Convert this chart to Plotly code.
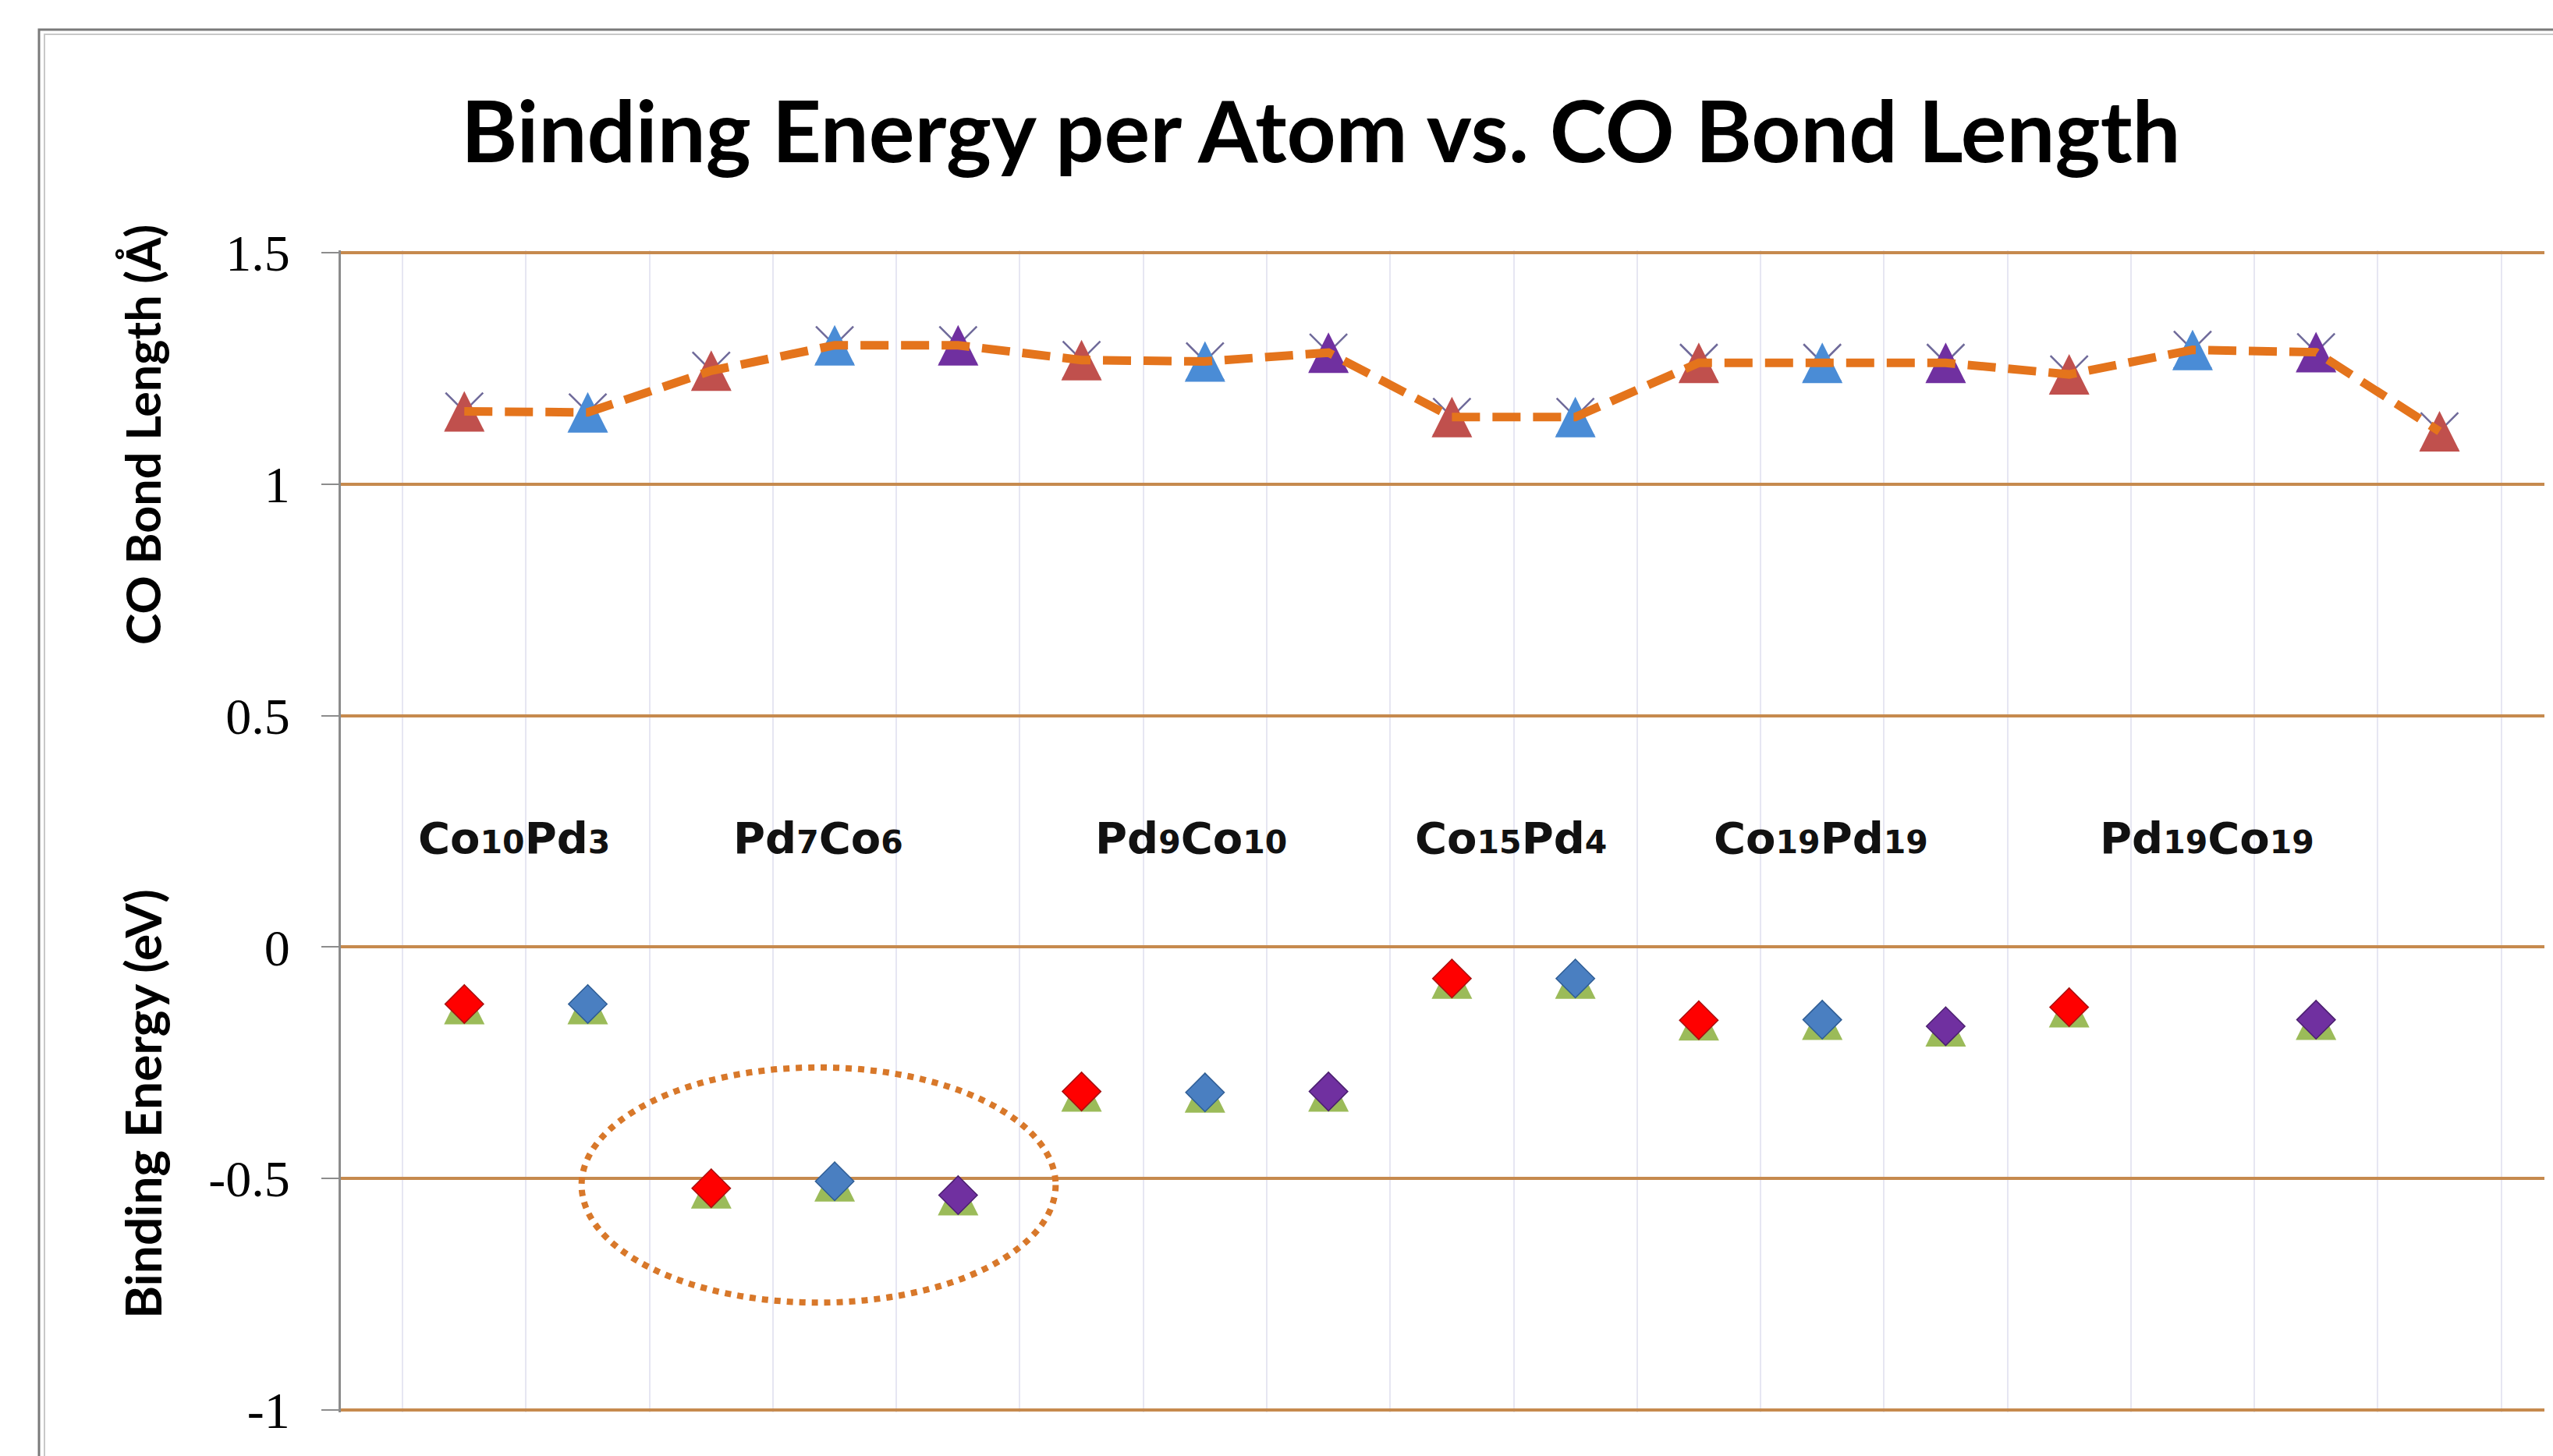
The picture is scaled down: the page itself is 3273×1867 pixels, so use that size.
import re
import plotly.graph_objects as go

# ---------------- data ----------------
points = list(range(1, 18))
site = ["r", "b", "r", "b", "p", "r", "b", "p", "r", "b", "r", "b", "p", "r", "b", "p", "r"]
co_len = [1.157, 1.155, 1.245, 1.300, 1.300, 1.268, 1.265, 1.284, 1.145, 1.145,
          1.262, 1.262, 1.262, 1.237, 1.290, 1.285, 1.114]
bind_e = [-0.123, -0.123, -0.521, -0.506, -0.536, -0.312, -0.314, -0.312, -0.068, -0.068,
          -0.158, -0.157, -0.171, -0.130, None, -0.157, None]
groups = ["Co10Pd3", "Pd7Co6", "Pd9Co10", "Co15Pd4", "Co19Pd19", "Pd19Co19"]
ytick_vals = [-1, -0.5, 0, 0.5, 1, 1.5]
ytick_text = ["-1", "-0.5", "0", "0.5", "1", "1.5"]

# ---------------- styles ----------------
W, H = 3273, 1867
L, R, T, B = 437, 11, 321, 56
plot_w, plot_h = W - L - R, H - T - B
yr = [-1.005, 1.505]
px_per_unit = plot_h / (yr[1] - yr[0])
tri_size = 52
d = (tri_size / 2) / px_per_unit  # shift so arrow-shaped triangles are centred

tri_col = {"r": "#C0504D", "b": "#4A8CD6", "p": "#7030A0"}
dia_col = {"r": "#FF0000", "b": "#4A7FC1", "p": "#7030A0"}
dia_edge = {"r": "#A81010", "b": "#2F5D95", "p": "#4B1F70"}
grid_col = "#C68A4E"
orange = "#E4741C"

group_x = [1.40, 3.87, 6.89, 9.48, 11.99, 15.12]
group_y = 0.236


def fmt(name):
    return re.sub(r"(\d+)", r"<span style='font-size:41px'>\1</span>", name)


def px2paper_x(px):
    return (px - L) / plot_w


def px2paper_y(py):
    return (H - B - py) / plot_h


fig = go.Figure()

# X markers (bottom layer, main axis)
fig.add_trace(go.Scatter(
    x=points, y=co_len, mode="markers", yaxis="y",
    marker=dict(symbol="x-thin", size=48, line=dict(color="#6F6A9A", width=2.5)),
    showlegend=False, hoverinfo="skip"))

# triangles for CO bond length (y2: shifted axis)
fig.add_trace(go.Scatter(
    x=points, y=co_len, mode="markers", yaxis="y2",
    marker=dict(symbol="arrow-up", size=tri_size,
                color=[tri_col[s] for s in site], line=dict(width=0)),
    showlegend=False, hoverinfo="skip"))

# green triangles under diamonds
be_pts = [(p, v) for p, v in zip(points, bind_e) if v is not None]
fig.add_trace(go.Scatter(
    x=[p for p, _ in be_pts], y=[v for _, v in be_pts], mode="markers", yaxis="y2",
    marker=dict(symbol="arrow-up", size=tri_size, color="#9BBB59", line=dict(width=0)),
    showlegend=False, hoverinfo="skip"))

# dashed line for CO bond length (top layer)
fig.add_trace(go.Scatter(
    x=points, y=co_len, mode="lines", yaxis="y3",
    line=dict(color=orange, width=11, dash="36px,16px"),
    showlegend=False, hoverinfo="skip"))

# diamonds for binding energy
be_sites = [s for s, v in zip(site, bind_e) if v is not None]
fig.add_trace(go.Scatter(
    x=[p for p, _ in be_pts], y=[v for _, v in be_pts], mode="markers", yaxis="y3",
    marker=dict(symbol="diamond", size=38,
                color=[dia_col[s] for s in be_sites],
                line=dict(color=[dia_edge[s] for s in be_sites], width=1.5)),
    showlegend=False, hoverinfo="skip"))

annotations = []
for g, gx in zip(groups, group_x):
    annotations.append(dict(
        x=gx, y=group_y, xref="x", yref="y", text=fmt(g), showarrow=False,
        xanchor="center", yanchor="middle",
        font=dict(family="DejaVu Sans", size=56, color="#111111", weight="bold")))

annotations.append(dict(
    x=px2paper_x(1693), y=px2paper_y(165), xref="paper", yref="paper",
    text="<b>Binding Energy per Atom vs. CO Bond Length</b>", showarrow=False,
    xanchor="center", yanchor="middle",
    font=dict(family="Lato", size=110, color="#000000")))
annotations.append(dict(
    x=px2paper_x(182), y=px2paper_y(558), xref="paper", yref="paper",
    text="<b>CO Bond Length (Å)</b>", showarrow=False, textangle=-90,
    xanchor="center", yanchor="middle",
    font=dict(family="Lato", size=61, color="#000000")))
annotations.append(dict(
    x=px2paper_x(182), y=px2paper_y(1416), xref="paper", yref="paper",
    text="<b>Binding Energy (eV)</b>", showarrow=False, textangle=-90,
    xanchor="center", yanchor="middle",
    font=dict(family="Lato", size=64, color="#000000")))

shapes = [
    dict(type="circle", xref="x", yref="y", x0=1.95, x1=5.79, y0=-0.768, y1=-0.260,
         line=dict(color="#D8782A", width=8, dash="dot")),
    dict(type="rect", xref="paper", yref="paper",
         x0=px2paper_x(50), x1=1.05, y0=-0.1, y1=px2paper_y(38),
         line=dict(color="#7A7A7A", width=3)),
    dict(type="rect", xref="paper", yref="paper",
         x0=px2paper_x(57), x1=1.05, y0=-0.1, y1=px2paper_y(44),
         line=dict(color="#C8C8C8", width=2)),
]

fig.update_layout(
    width=W, height=H,
    margin=dict(l=L, r=R, t=T, b=B, pad=0),
    paper_bgcolor="white", plot_bgcolor="white",
    showlegend=False,
    xaxis=dict(range=[0, 17.85], tickvals=[i + 0.5 for i in range(18)],
               showticklabels=False, ticks="", showgrid=True,
               gridcolor="#E6E6F2", gridwidth=2, zeroline=False, showline=False),
    yaxis=dict(range=yr, tickvals=ytick_vals, ticktext=ytick_text,
               showgrid=True, gridcolor=grid_col, gridwidth=4, zeroline=False,
               showline=True, linecolor="#8C8C8C", linewidth=3,
               ticks="outside", ticklen=22, tickwidth=2, tickcolor="#8C8C8C",
               ticklabelstandoff=27,
               tickfont=dict(family="Liberation Serif", size=66, color="#000000")),
    yaxis2=dict(range=[yr[0] - d, yr[1] - d], overlaying="y", visible=False),
    yaxis3=dict(range=yr, overlaying="y", visible=False),
    annotations=annotations,
    shapes=shapes,
)

fig.write_html("out.html",
               config={"displayModeBar": False},
               post_script="document.body.style.margin='0';document.body.style.overflow='hidden';")
